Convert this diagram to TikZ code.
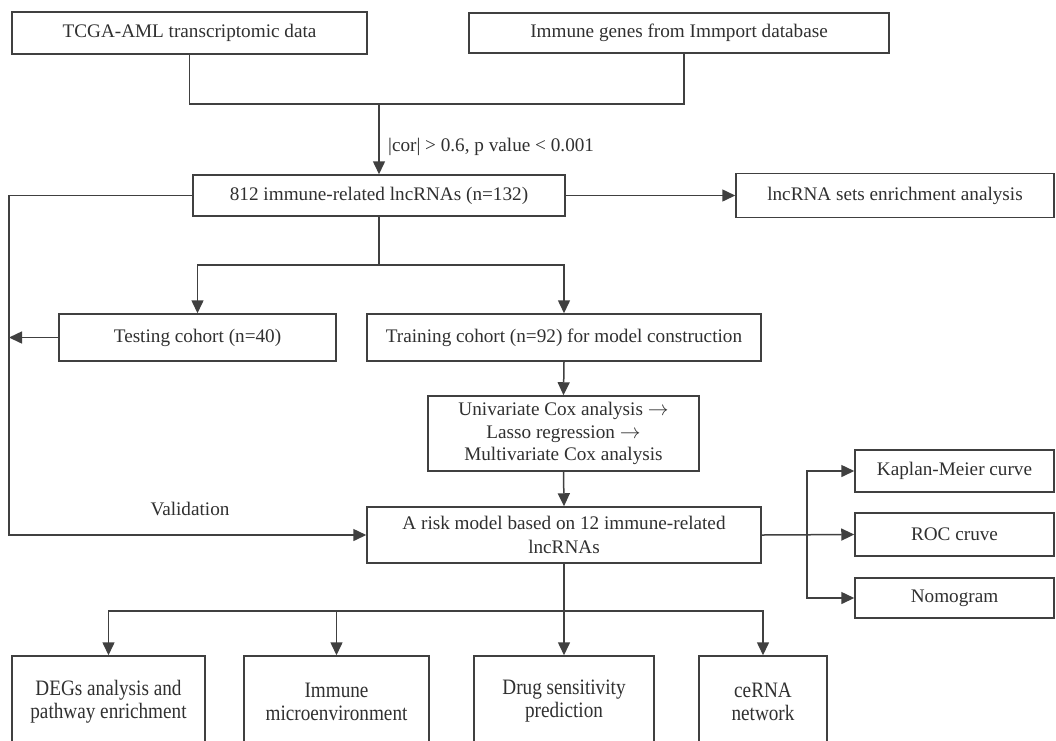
\documentclass[tikz,border=0pt]{standalone}
\usepackage{fontspec}
\setmainfont{Liberation Serif}
\newfontfamily\condfont[FakeStretch=0.873]{Liberation Serif}
\usetikzlibrary{arrows.meta}
\definecolor{ln}{HTML}{404040}
\definecolor{tx}{HTML}{303030}
\tikzset{
  box/.style={draw=ln, line width=1.5pt, inner sep=0pt, align=center, text=tx,
    font=\fontsize{19.2}{22.5}\selectfont},
  lowbox/.style={box, font=\condfont\fontsize{22}{23}\selectfont},
  conn/.style={draw=ln, line width=1.5pt},
  arr/.style={conn, -{Triangle[length=13pt,width=12pt]}},
  lbl/.style={text=tx, font=\fontsize{19.2}{22.5}\selectfont, inner sep=0pt}
}
\begin{document}
\begin{tikzpicture}[x=1pt,y=-1pt]
\clip (0,0) rectangle (1056,740);
\fill[white] (0,0) rectangle (1056,740);

\node[box, minimum width=355pt, minimum height=42pt] (tcga) at (189.5,33) {TCGA-AML transcriptomic data};
\node[box, minimum width=420pt, minimum height=40pt] (imm) at (679,33) {Immune genes from Immport database};
\node[box, minimum width=372pt, minimum height=41pt] (l812) at (379,195.5) {812 immune-related lncRNAs (n=132)};
\node[box, minimum width=318pt, minimum height=44pt] (gsea) at (895,195.5) {lncRNA sets enrichment analysis};
\node[box, minimum width=277pt, minimum height=47pt] (test) at (197.5,337.5) {Testing cohort (n=40)};
\node[box, minimum width=394pt, minimum height=47pt] (train) at (564,337.5) {Training cohort (n=92) for model construction};
\node[box, minimum width=271pt, minimum height=75pt] (cox) at (563.5,433.5) {Univariate Cox analysis $\rightarrow$\\Lasso regression $\rightarrow$\\Multivariate Cox analysis};
\node[box, minimum width=394pt, minimum height=56pt, font=\fontsize{19.2}{24}\selectfont] (risk) at (564,535) {A risk model based on 12 immune-related\\lncRNAs};
\node[box, minimum width=199pt, minimum height=42pt] (km) at (954.5,471) {Kaplan-Meier curve};
\node[box, minimum width=199pt, minimum height=43pt] (roc) at (954.5,534.5) {ROC cruve};
\node[box, minimum width=199pt, minimum height=40pt] (nomo) at (954.5,598) {Nomogram};
\node[lowbox, minimum width=193pt, minimum height=91pt] (degs) at (108.5,701.5) {DEGs analysis and\\pathway enrichment};
\node[lowbox, minimum width=185pt, minimum height=91pt] (immenv) at (336.5,701.5) {Immune\\microenvironment};
\node[lowbox, minimum width=180pt, minimum height=91pt] (drug) at (564,701.5) {Drug sensitivity\\prediction};
\node[lowbox, minimum width=128pt, minimum height=91pt] (cerna) at (763,701.5) {ceRNA\\network};

\node[lbl, anchor=west] (corlbl) at (388,147) {|cor| > 0.6, p value < 0.001};
\node[lbl] (val) at (190,509) {Validation};

\coordinate (j1) at (379,104);
\coordinate (j2) at (379,265);
\coordinate (j3) at (807,535);
\coordinate (j4) at (564,611);
\coordinate (L) at (9,535);
\coordinate (T) at (9,337.5);

\draw[conn] (tcga.south) |- (j1);
\draw[conn] ([xshift=5pt]imm.south) |- (j1);
\draw[arr] (j1) -- (l812.north);
\draw[arr] (l812.east) -- (gsea.west);
\draw[arr] (l812.west) -| (L) -- (risk.west);
\draw[arr] (test.west) -- (T);
\draw[conn] (l812.south) -- (j2);
\draw[arr] (j2) -| (test.north);
\draw[arr] (j2) -| (train.north);
\draw[arr] (train.south) -- (cox.north);
\draw[arr] (cox.south) -- (risk.north);
\draw[arr] (risk.east) -- (roc.west);
\draw[arr] (j3) |- (km.west);
\draw[arr] (j3) |- (nomo.west);
\draw[arr] (risk.south) -- (drug.north);
\draw[arr] (j4) -| (degs.north);
\draw[arr] (j4) -| (immenv.north);
\draw[arr] (j4) -| (cerna.north);
\end{tikzpicture}
\end{document}
